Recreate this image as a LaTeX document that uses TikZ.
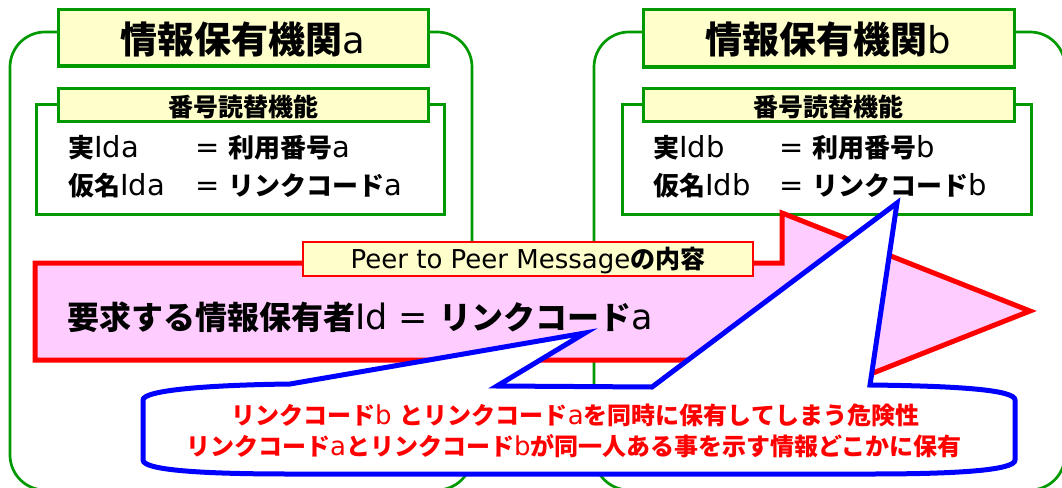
\documentclass[tikz,border=0pt]{standalone}
\usepackage{fontspec}
\setmainfont{DejaVu Sans}
\newfontfamily\jp{Noto Sans CJK JP}
\newcommand\J[1]{{\jp\bfseries #1}}
\newcommand\fs[1]{\fontsize{#1}{#1}\selectfont}
\definecolor{grn}{RGB}{0,153,0}
\definecolor{lyel}{RGB}{255,255,204}
\definecolor{pnk}{RGB}{255,204,255}
\definecolor{rd}{RGB}{255,0,0}
\definecolor{bl}{RGB}{0,0,255}
\begin{document}
\begin{tikzpicture}[x=1pt,y=-1pt,
  outer/.style={draw=grn,line width=2.7pt,rounded corners=35pt},
  ybox/.style={draw=grn,line width=3pt,fill=lyel,inner sep=0pt},
  wbox/.style={draw=grn,line width=3pt,fill=white,inner sep=0pt},
  txt/.style={inner sep=0pt,text=black},
  arrowshape/.style={draw=rd,fill=pnk,line width=5pt,line join=miter},
  callout/.style={draw=bl,fill=white,line width=5pt,line join=miter},
  rtxt/.style={inner sep=0pt,text=rd,anchor=base}]
\useasboundingbox (0,0) rectangle (1062,487);
% outer frames
\draw[outer] (10,32) rectangle (472,490);
\draw[outer] (594,32) rectangle (1065,490);
% organisation a
\node[ybox,minimum width=370pt,minimum height=56pt] (ta) at (243,38) {};
\node[txt,anchor=base] (tat) at (243,54) {\fs{37}\J{情報保有機関}a};
\node[wbox,minimum width=408pt,minimum height=110pt] (ia) at (240,159) {};
\node[ybox,minimum width=370pt,minimum height=33pt] (la) at (243,104.5) {};
\node[txt,anchor=base] (lat) at (243,116) {\fs{25}\J{番号読替機能}};
\node[txt,anchor=base west] (a1) at (68,157) {\fs{29}\makebox[127pt][l]{\J{\fs{26}実}Ida}= \J{\fs{26}利用番号}a};
\node[txt,anchor=base west] (a2) at (68,195) {\fs{29}\makebox[127pt][l]{\J{\fs{26}仮名}Ida}= \J{\fs{26}リンクコード}a};
% organisation b
\node[ybox,minimum width=371pt,minimum height=57pt] (tb) at (828.5,38.5) {};
\node[txt,anchor=base] (tbt) at (828.5,54) {\fs{37}\J{情報保有機関}b};
\node[wbox,minimum width=409pt,minimum height=110pt] (ib) at (826.5,159) {};
\node[ybox,minimum width=371pt,minimum height=33pt] (lb) at (828.5,104.5) {};
\node[txt,anchor=base] (lbt) at (828.5,116) {\fs{25}\J{番号読替機能}};
\node[txt,anchor=base west] (b1) at (653,157) {\fs{29}\makebox[126pt][l]{\J{\fs{26}実}Idb}= \J{\fs{26}利用番号}b};
\node[txt,anchor=base west] (b2) at (653,195) {\fs{29}\makebox[126pt][l]{\J{\fs{26}仮名}Idb}= \J{\fs{26}リンクコード}b};
% message arrow
\draw[arrowshape] (35,263) -- (782,263) -- (782,213) -- (1030,311) -- (782,409) -- (782,360) -- (35,360) -- cycle;
\node[draw=rd,line width=2.5pt,fill=lyel,minimum width=450pt,minimum height=34pt,inner sep=0pt] (pl) at (528,259) {};
\node[txt,anchor=base] (plt) at (528,268) {\fs{26}Peer to Peer Message\J{\fs{25}の内容}};
\node[txt,anchor=base west] (req) at (67,329) {\fs{35}\J{\fs{32}要求する情報保有者}Id = \J{\fs{32}リンクコード}a};
% callout
\draw[callout] (143,400) .. controls (143,390) and (210,385) .. (290,384) -- (585,333) -- (497,386) -- (652,387) -- (897,203) -- (870,385) .. controls (960,386) and (1015,390) .. (1015,400) -- (1015,460) .. controls (1015,470) and (960,474) .. (870,474) -- (290,474) .. controls (200,474) and (143,470) .. (143,460) -- cycle;
\node[rtxt] (c1) at (575,424) {\fs{26}\J{\fs{24}リンクコード}b \J{\fs{24}とリンクコード}a\J{\fs{24}を同時に保有してしまう危険性}};
\node[rtxt] (c2) at (574,455) {\fs{26}\J{\fs{24}リンクコード}a\J{\fs{24}とリンクコード}b\J{\fs{24}が同一人ある事を示す情報どこかに保有}};
\end{tikzpicture}
\end{document}
